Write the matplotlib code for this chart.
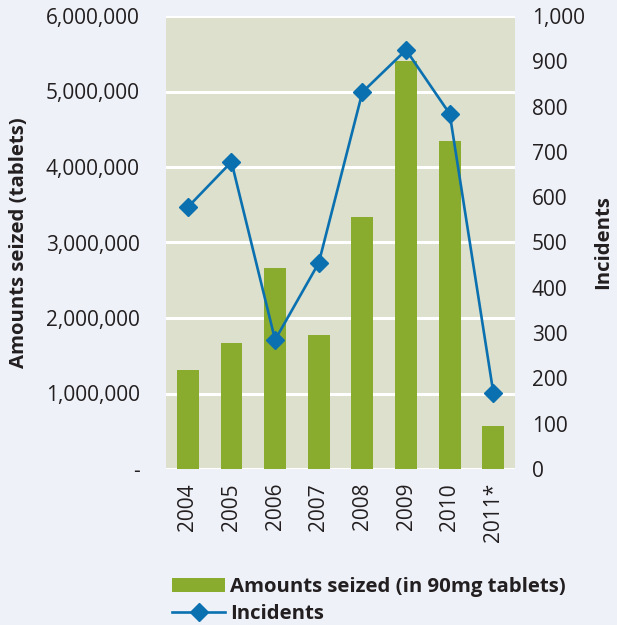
import numpy as np
import matplotlib
matplotlib.use("Agg")
from matplotlib import pyplot as plt
from matplotlib.ticker import FuncFormatter

years = ['2004', '2005', '2006', '2007', '2008', '2009', '2010', '2011*']
amounts = [1310000, 1670000, 2660000, 1770000, 3340000, 5400000, 4340000, 570000]
incidents = [578, 678, 285, 455, 832, 925, 784, 168]

plt.rcParams['font.family'] = ['Open Sans', 'DejaVu Sans']

bg = '#eef1f8'
plot_bg = '#dce0cc'
green = '#89ac2e'
blue = '#0a70b0'
text_c = '#231f20'

fig = plt.figure(figsize=(6.17, 6.25), dpi=100, facecolor=bg)
ax = fig.add_axes([0.269, 0.2496, 0.566, 0.7248])
ax.set_facecolor(plot_bg)

x = np.arange(len(years))
bars = ax.bar(x, amounts, width=0.5, color=green, zorder=3,
              label='Amounts seized (in 90mg tablets)')
ax.set_xlim(-0.5, len(years) - 0.5)
ax.set_ylim(0, 6000000)
ax.set_yticks(np.arange(0, 6000001, 1000000))
ax.yaxis.set_major_formatter(FuncFormatter(lambda v, p: '-' if v == 0 else f'{int(v):,}'))
ax.grid(axis='y', color='white', lw=2.2, zorder=1)
ax.set_axisbelow(True)
ax.set_xticks(x)
ax.set_xticklabels(years, rotation=90)
ax.tick_params(length=0, labelsize=15, colors=text_c, pad=10)
ax.tick_params(axis='y', pad=19)
for s in ax.spines.values():
    s.set_visible(False)
ax.set_ylabel('Amounts seized (tablets)', fontsize=14.7, fontweight='bold',
              color=text_c, labelpad=12)

ax2 = ax.twinx()
line, = ax2.plot(x, incidents, color=blue, lw=1.9, marker='D', ms=9,
                 zorder=4, label='Incidents')
ax2.set_ylim(0, 1000)
ax2.set_yticks(np.arange(0, 1001, 100))
ax2.yaxis.set_major_formatter(FuncFormatter(lambda v, p: f'{int(v):,}'))
ax2.tick_params(length=0, labelsize=15, colors=text_c, pad=12)
for s in ax2.spines.values():
    s.set_visible(False)
ax2.set_ylabel('Incidents', fontsize=14.7, fontweight='bold', color=text_c,
               labelpad=6)

leg = fig.legend([bars, line], ['Amounts seized (in 90mg tablets)', 'Incidents'],
                 loc='lower left', bbox_to_anchor=(0.249, -0.028), frameon=False,
                 handlelength=2.6, handletextpad=0.24, labelspacing=0.35,
                 prop={'size': 14.7, 'weight': 'bold'})
for t in leg.get_texts():
    t.set_color(text_c)

fig.savefig('out.png', dpi=100, facecolor=bg)
